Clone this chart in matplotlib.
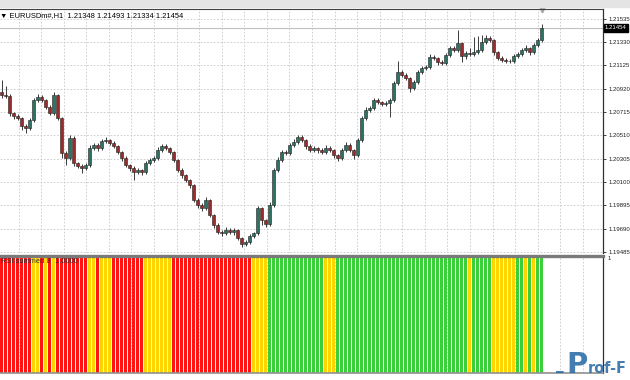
import numpy as np
import matplotlib.pyplot as plt
from matplotlib.patches import Rectangle

# EURUSDm#, H1 - fechamentos (136 barras)
closes = [
    1.20865, 1.20856, 1.20707, 1.20680, 1.20663, 1.20593, 1.20575, 1.20645, 1.20821, 1.20847,
    1.20821, 1.20760, 1.20707, 1.20865, 1.20663, 1.20355, 1.20311, 1.20487, 1.20267, 1.20241,
    1.20223, 1.20250, 1.20399, 1.20426, 1.20399, 1.20461, 1.20470, 1.20443, 1.20417, 1.20364,
    1.20311, 1.20250, 1.20223, 1.20188, 1.20206, 1.20188, 1.20267, 1.20294, 1.20311, 1.20382,
    1.20417, 1.20399, 1.20364, 1.20294, 1.20206, 1.20162, 1.20118, 1.20074, 1.19942, 1.19898,
    1.19872, 1.19942, 1.19810, 1.19722, 1.19661, 1.19652, 1.19678, 1.19661, 1.19678, 1.19608,
    1.19555, 1.19573, 1.19626, 1.19652, 1.19872, 1.19766, 1.19731, 1.19898, 1.20206, 1.20294,
    1.20364, 1.20355, 1.20426, 1.20452, 1.20496, 1.20470, 1.20417, 1.20382, 1.20399, 1.20382,
    1.20364, 1.20399, 1.20382, 1.20338, 1.20311, 1.20382, 1.20426, 1.20382, 1.20338, 1.20470,
    1.20663, 1.20733, 1.20751, 1.20821, 1.20804, 1.20786, 1.20795, 1.20821, 1.20971, 1.21067,
    1.21041, 1.21014, 1.20927, 1.20979, 1.21067, 1.21102, 1.21111, 1.21199, 1.21190, 1.21155,
    1.21146, 1.21217, 1.21278, 1.21261, 1.21322, 1.21208, 1.21234, 1.21225, 1.21243, 1.21261,
    1.21331, 1.21366, 1.21349, 1.21243, 1.21190, 1.21173, 1.21168, 1.21164, 1.21208, 1.21225,
    1.21261, 1.21278, 1.21243, 1.21305, 1.21348, 1.21454,
]
first_open = 1.20890

# pavios (em pips) acima / abaixo do corpo
wick_up = [
    11, 8, 2, 1, 2, 1, 2, 2, 2, 3,
    2, 1, 2, 3, 1, 1, 2, 3, 2, 1,
    2, 2, 3, 2, 2, 2, 3, 1, 2, 1,
    1, 2, 1, 2, 2, 1, 2, 2, 2, 3,
    2, 2, 1, 1, 1, 2, 1, 1, 1, 2,
    2, 3, 1, 1, 2, 2, 3, 2, 2, 1,
    1, 2, 2, 1, 2, 1, 1, 3, 2, 3,
    2, 2, 2, 3, 2, 2, 1, 2, 2, 1,
    2, 3, 2, 1, 1, 2, 3, 2, 1, 2,
    2, 3, 2, 2, 2, 1, 2, 2, 2, 10,
    2, 2, 1, 2, 2, 2, 2, 3, 2, 1,
    2, 2, 2, 2, 11, 1, 2, 4, 13, 12,
    6, 3, 2, 1, 1, 2, 2, 1, 2, 2,
    2, 3, 1, 2, 2, 3.9,
]
wick_dn = [
    3, 2, 3, 3, 2, 4, 4, 2, 2, 2,
    2, 2, 2, 2, 2, 4, 6, 2, 3, 2,
    4, 2, 2, 2, 3, 2, 2, 2, 2, 2,
    3, 2, 3, 7, 2, 3, 2, 2, 2, 2,
    2, 2, 2, 2, 2, 3, 2, 3, 2, 3,
    3, 2, 2, 3, 2, 3, 2, 2, 3, 2,
    3, 2, 2, 2, 2, 4, 3, 2, 2, 2,
    2, 2, 2, 2, 2, 2, 3, 2, 2, 3,
    2, 2, 2, 3, 3, 2, 2, 2, 4, 2,
    2, 2, 2, 2, 2, 2, 2, 12, 2, 2,
    2, 2, 4, 2, 2, 2, 2, 2, 2, 3,
    2, 2, 2, 2, 2, 5, 3, 2, 2, 2,
    2, 2, 2, 3, 2, 2, 2, 2, 2, 2,
    2, 2, 3, 2, 2, 1.4,
]

# RSI summed 8: cor de cada barra (r = vermelho, y = amarelo, g = verde)
rsi_colors = ("rrrrrrrr" "yy" "r" "y" "r" "y" "rrrrrrrr" "yy" "r" "yyy" "rrrrrrrr"
              "yyyyyyy" "rrrrrrrrrrrrrrrrrrrr" "yyyy" "gggggggggggggg" "yyy"
              "ggggggggggggggggggggggggggggggggg" "y" "ggggg" "yyyyyy" "gg" "y" "g" "y" "gg")
rsi_vals = [1.0] * len(rsi_colors)

price_ticks = [1.19485, 1.19690, 1.19895, 1.20100, 1.20305, 1.20510,
               1.20715, 1.20920, 1.21125, 1.21330, 1.21535]
last_price = 1.21454
title = "EURUSDm#,H1  1.21348 1.21493 1.21334 1.21454"

n = len(closes)
x = np.arange(n)
closes = np.array(closes)
opens = np.concatenate([[first_open], closes[:-1]])
highs = np.maximum(opens, closes) + np.array(wick_up) * 0.0001
lows = np.minimum(opens, closes) - np.array(wick_dn) * 0.0001

W, H = 630, 380
fig = plt.figure(figsize=(6.3, 3.8), dpi=100)
fig.patch.set_facecolor('white')
fig.patches.append(Rectangle((0, 1 - 7 / H), 1, 7 / H, transform=fig.transFigure,
                             color='#e4e4e4', zorder=0))

ax = fig.add_axes([0, 1 - 253 / H, 603 / W, (253 - 9) / H])
ax2 = fig.add_axes([0, 1 - 373 / H, 603 / W, (373 - 256) / H])

# bar i centred at pixel 4*i + 1.5
xlim = (-1.5 / 4, (603 - 1.5) / 4)
grid_x = (np.arange(18.6, 603, 22.57) - 1.5) / 4
font = 'Liberation Sans'
fs = 4.3

# ---- painel principal ----
ax.set_xlim(*xlim)
ax.set_ylim(1.19476, 1.21621)
for gx in grid_x:
    ax.axvline(gx, color='#c8c8c8', lw=0.6, ls=(0, (2, 2)), zorder=0)
for t in price_ticks:
    ax.axhline(t, color='#c8c8c8', lw=0.6, ls=(0, (2, 2)), zorder=0)
ax.axhline(last_price, color='#c0c0c0', lw=0.8, zorder=1)

bull = closes >= opens
ax.vlines(x, lows, highs, color='#3a3a3a', lw=0.7, zorder=2)
body_h = np.maximum(np.abs(closes - opens), 0.00002)
ax.bar(x[bull], body_h[bull], bottom=np.minimum(opens, closes)[bull], width=0.72,
       color='#2e7263', edgecolor='#202020', linewidth=0.4, zorder=3)
ax.bar(x[~bull], body_h[~bull], bottom=np.minimum(opens, closes)[~bull], width=0.72,
       color='#9a2c2c', edgecolor='#202020', linewidth=0.4, zorder=3)

ax.yaxis.tick_right()
ax.set_yticks(price_ticks)
ax.set_yticklabels([f"{t:.5f}" for t in price_ticks], fontsize=fs, family=font)
ax.tick_params(axis='y', length=2.5, width=0.6, pad=1.2, colors='#202020')
ax.set_xticks([])
for s in ['left', 'bottom']:
    ax.spines[s].set_visible(False)
ax.spines['top'].set_color('#404040')
ax.spines['top'].set_linewidth(0.8)
ax.spines['right'].set_color('#303030')
ax.spines['right'].set_linewidth(0.9)

ax.text(1.003, last_price, f"{last_price:.5f}", transform=ax.get_yaxis_transform(),
        fontsize=fs, family=font, color='white', va='center', ha='left',
        bbox=dict(boxstyle='square,pad=0.2', fc='black', ec='black'), clip_on=False)
ax.plot([x[-1]], [1.21610], marker='v', ms=3.5, color='#a8a8a8', clip_on=False)
ax.text(0.0, 1 - 16 / H, "\u25bc " + title, transform=fig.transFigure, fontsize=5.4,
        family=['Liberation Sans', 'DejaVu Sans'], va='center', ha='left', color='black')

# ---- painel RSI summed ----
ax2.set_xlim(*xlim)
ax2.set_ylim(0, 1.017)
for gx in grid_x:
    ax2.axvline(gx, color='#c8c8c8', lw=0.6, ls=(0, (2, 2)), zorder=0)
cmap = {'r': '#ff1414', 'y': '#ffd500', 'g': '#3ccf3c'}
ax2.bar(x, rsi_vals, width=0.74, color=[cmap[c] for c in rsi_colors], linewidth=0, zorder=2)
ax2.yaxis.tick_right()
ax2.set_yticks([1])
ax2.set_yticklabels(['1'], fontsize=fs, family=font)
ax2.tick_params(axis='y', length=0, pad=3, colors='#202020')
ax2.set_xticks([])
ax2.spines['left'].set_visible(False)
ax2.spines['top'].set_color('#7a7a7a')
ax2.spines['top'].set_linewidth(2.4)
ax2.spines['bottom'].set_color('#909090')
ax2.spines['bottom'].set_linewidth(1.2)
ax2.spines['right'].set_color('#303030')
ax2.spines['right'].set_linewidth(0.9)
ax2.text(0.002, 0.955, "RSI summed 8  1.0000", transform=ax2.transAxes, fontsize=5.4,
         family=font, color='#303030', va='center', ha='left', zorder=5)

# marca d'água
wm = dict(weight='bold', family='DejaVu Sans', color='#2f6fa8', alpha=0.9,
          va='baseline', ha='left')
fig.text(556 / W, 1 - 369 / H, "_", fontsize=11, **wm)
fig.text(566 / W, 1 - 373 / H, "P", fontsize=21, **wm)
fig.text(588 / W, 1 - 373 / H, "rof-F", fontsize=11.5, stretch='condensed', **wm)

fig.savefig('out.png', dpi=100)
